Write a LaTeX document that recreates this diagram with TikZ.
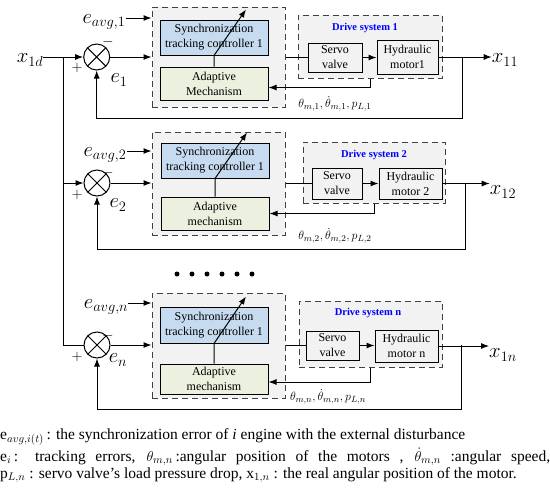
\documentclass[tikz,border=0pt]{standalone}
\usepackage{fontspec}
\setmainfont{Liberation Serif}
\usetikzlibrary{arrows.meta}

\definecolor{synblue}{RGB}{198,219,240}
\definecolor{adagreen}{RGB}{235,241,222}
\definecolor{boxgray}{RGB}{242,242,242}

\tikzset{
  wire/.style={line width=1pt},
  sig/.style={line width=1pt, -{Latex[length=8pt,width=6pt]}},
  dbox/.style={draw=black!75, dash pattern=on 6pt off 4pt, line width=1pt, fill=boxgray, inner sep=0pt},
  blk/.style={draw, line width=1pt, align=center, inner sep=0pt, font=\fontsize{12}{15}\selectfont},
  sumnode/.style={circle, draw, line width=1pt, minimum size=26pt, inner sep=0pt,
    path picture={\draw[line width=1pt] (path picture bounding box.north west) -- (path picture bounding box.south east)
      (path picture bounding box.north east) -- (path picture bounding box.south west);}},
  big/.style={inner sep=0pt, font=\fontsize{21}{21}\selectfont},
  sgn/.style={inner sep=0pt, font=\fontsize{14}{14}\selectfont},
  fbk/.style={inner sep=0pt, font=\fontsize{13}{13}\selectfont},
  drvlbl/.style={inner sep=0pt, text=blue, font=\fontsize{10.5}{12}\selectfont\bfseries},
  captxt/.style={inner sep=0pt, anchor=west, font=\fontsize{15.5}{17}\selectfont}
}

\begin{document}
\begin{tikzpicture}[x=1pt, y=-1pt]
  \useasboundingbox (0,0) rectangle (550,488);

  % row 1
  \node[dbox, minimum width=133pt, minimum height=100pt] (ctl1) at (218.5,57) {};
  \node[blk, fill=synblue, minimum width=108pt, minimum height=35pt] (syn1) at (214,37.5) {Synchronization\\tracking controller 1};
  \node[blk, fill=adagreen, minimum width=108pt, minimum height=33pt] (ada1) at (214,83.5) {Adaptive\\Mechanism};
  \node[dbox, minimum width=144pt, minimum height=63pt] (drv1) at (370,46.5) {};
  \node[drvlbl] (drvt1) at (365,28) {Drive system 1};
  \node[blk, minimum width=54pt, minimum height=29pt] (servo1) at (335,57.5) {Servo\\valve};
  \node[blk, minimum width=61pt, minimum height=34pt] (hyd1) at (407.5,57) {Hydraulic\\motor1};
  \node[sumnode] (s1) at (96.7,57) {};
  \node[big] (x1d) at (30,60) {$x_{1d}$};
  \node[big] (eavg1) at (104,22) {$e_{avg,1}$};
  \node[big] (e1) at (119,80) {$e_1$};
  \node[sgn] (p1) at (77,68) {$+$};
  \node[sgn] (m1) at (108,42) {$-$};
  \node[big] (x11) at (505,60) {$x_{11}$};
  \node[fbk] (fb1) at (335,104) {$\theta_{m,1},\dot{\theta}_{m,1},p_{L,1}$};
  \coordinate (b1) at (63,57);
  \coordinate (o1) at (462,57);

  \draw[sig] (x1d.east |- s1) -- (s1.west);
  \draw[sig] ([yshift=4pt]eavg1.east) -- ([yshift=4pt]eavg1.east -| ctl1.west);
  \draw[sig] (s1.east) -- (s1 -| ctl1.west);
  \draw[sig] (ada1.north) -- (ada1.north |- syn1.south) -- ([shift={(32pt,10pt)}]syn1.north);
  \draw[wire] (ctl1.east |- servo1) -- (servo1.west);
  \draw[sig] (servo1.east) -- (servo1.east -| hyd1.west);
  \draw[sig] (hyd1.east) -- (hyd1.east -| x11.west);
  \draw[sig] (o1) -- ++(0,61) -| (s1.south);
  \draw[sig] (drv1.south) |- ([yshift=-4pt]ada1.east);

  % row 2
  \node[dbox, minimum width=133pt, minimum height=103pt] (ctl2) at (218.5,183.5) {};
  \node[blk, fill=synblue, minimum width=108pt, minimum height=35pt] (syn2) at (215,160.5) {Synchronization\\tracking controller 1};
  \node[blk, fill=adagreen, minimum width=108pt, minimum height=33pt] (ada2) at (215,213.5) {Adaptive\\mechanism};
  \node[dbox, minimum width=142pt, minimum height=61pt] (drv2) at (374,172.5) {};
  \node[drvlbl] (drvt2) at (374,155) {Drive system 2};
  \node[blk, minimum width=50pt, minimum height=31pt] (servo2) at (337,183.5) {Servo\\valve};
  \node[blk, minimum width=63pt, minimum height=31pt] (hyd2) at (410.5,183.5) {Hydraulic\\motor 2};
  \node[sumnode] (s2) at (97,183) {};
  \node[big] (eavg2) at (105,155) {$e_{avg,2}$};
  \node[big] (e2) at (118,205) {$e_2$};
  \node[sgn] (p2) at (77,195) {$+$};
  \node[sgn] (m2) at (108,173) {$-$};
  \node[big] (x12) at (503,192) {$x_{12}$};
  \node[fbk] (fb2) at (335,236) {$\theta_{m,2},\dot{\theta}_{m,2},p_{L,2}$};
  \coordinate (b2) at (63,183);
  \coordinate (o2) at (465,183);

  \draw[sig] (b2) -- (s2.west);
  \draw[sig] ([yshift=4pt]eavg2.east) -- ([yshift=4pt]eavg2.east -| ctl2.west);
  \draw[sig] (s2.east) -- (s2 -| ctl2.west);
  \draw[sig] (ada2.north) -- (ada2.north |- syn2.south) -- ([shift={(32pt,10pt)}]syn2.north);
  \draw[wire] (ctl2.east |- servo2) -- (servo2.west);
  \draw[sig] (servo2.east) -- (servo2.east -| hyd2.west);
  \draw[sig] (hyd2.east) -- (hyd2.east -| x12.west);
  \draw[sig] (o2) -- ++(0,66) -| (s2.south);
  \draw[sig] (drv2.south) |- (ada2.east);

  % dots
  \fill (177,274) circle (2.5pt) (192,274) circle (2.5pt) (207,274) circle (2.5pt)
        (222,274) circle (2.5pt) (237,274) circle (2.5pt) (252,274) circle (2.5pt);

  % row n
  \node[dbox, minimum width=133pt, minimum height=105pt] (ctl3) at (218.5,345.5) {};
  \node[blk, fill=synblue, minimum width=108pt, minimum height=36pt] (syn3) at (214,325) {Synchronization\\tracking controller 1};
  \node[blk, fill=adagreen, minimum width=108pt, minimum height=30pt] (ada3) at (214,379) {Adaptive\\mechanism};
  \node[dbox, minimum width=143pt, minimum height=66pt] (drv3) at (370.5,334) {};
  \node[drvlbl] (drvt3) at (368,313) {Drive system n};
  \node[blk, minimum width=53pt, minimum height=29pt] (servo3) at (332.5,345.5) {Servo\\valve};
  \node[blk, minimum width=63pt, minimum height=32pt] (hyd3) at (406.5,346) {Hydraulic\\motor n};
  \node[sumnode] (s3) at (97,345) {};
  \node[big] (eavg3) at (106,307) {$e_{avg,n}$};
  \node[big] (e3) at (118,360) {$e_n$};
  \node[sgn] (p3) at (77,357) {$+$};
  \node[sgn] (m3) at (108,336) {$-$};
  \node[big] (x1n) at (503,355) {$x_{1n}$};
  \node[fbk] (fb3) at (328,397) {$\theta_{m,n},\dot{\theta}_{m,n},p_{L,n}$};
  \coordinate (b3) at (63,345);
  \coordinate (o3) at (461,345);

  \draw[wire] (b1) -- (b3) -- (s3.west);
  \draw[sig] ([yshift=4pt]eavg3.east) -- ([yshift=4pt]eavg3.east -| ctl3.west);
  \draw[sig] (s3.east) -- (s3 -| ctl3.west);
  \draw[sig] (ada3.north) -- (ada3.north |- syn3.south) -- ([shift={(32pt,10pt)}]syn3.north);
  \draw[wire] (ctl3.east |- servo3) -- (servo3.west);
  \draw[sig] (servo3.east) -- (servo3.east -| hyd3.west);
  \draw[sig] (hyd3.east) -- (hyd3.east -| x1n.west);
  \draw[sig] (o3) -- ++(0,64) -| (s3.south);
  \draw[sig] (drv3.south) |- ([yshift=-3pt]ada3.east);

  % caption
  \node[captxt] (cap1) at (0,437) {e$_{avg,i(t)}$\,: the synchronization error of \textit{i} engine with the external disturbance};
  \node[captxt] (cap2) at (0,457) {\makebox[550pt][s]{e$_i$\,: tracking errors, $\theta_{m,n}$\,:angular position of the motors , $\dot{\theta}_{m,n}$ :angular speed,}};
  \node[captxt] (cap3) at (0,475) {p$_{L,n}$ : servo valve’s load pressure drop, x$_{1,n}$ : the real angular position of the motor.};
\end{tikzpicture}
\end{document}
